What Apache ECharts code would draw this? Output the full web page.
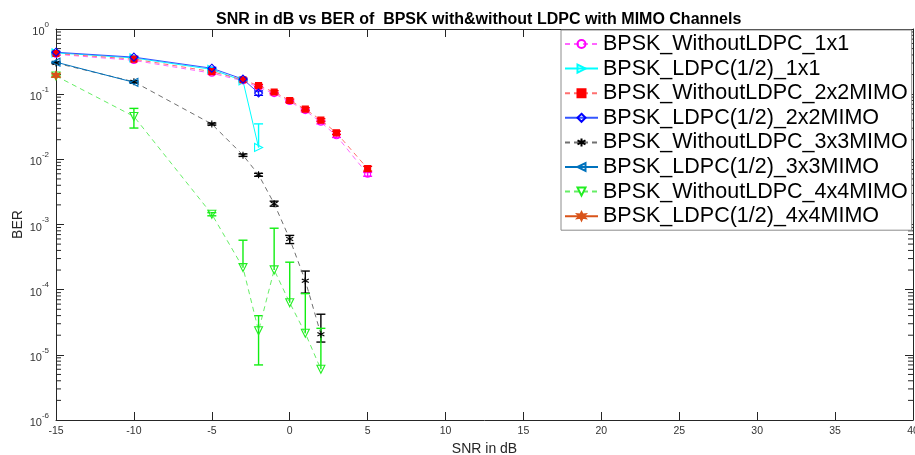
<!DOCTYPE html>
<html>
<head>
<meta charset="utf-8">
<script src="https://cdn.jsdelivr.net/npm/echarts@6/dist/echarts.min.js"></script>
<style>html,body{margin:0;padding:0;background:#fff}#c{width:915px;height:455px}</style>
</head>
<body>
<div id="c"></div>
<script>
// ---- data ----
const seriesNames = ['BPSK_WithoutLDPC_1x1','BPSK_LDPC(1/2)_1x1','BPSK_WithoutLDPC_2x2MIMO','BPSK_LDPC(1/2)_2x2MIMO','BPSK_WithoutLDPC_3x3MIMO','BPSK_LDPC(1/2)_3x3MIMO','BPSK_WithoutLDPC_4x4MIMO','BPSK_LDPC(1/2)_4x4MIMO'];

const snrA = [-15,-10,-5,-3,-2,-1,0,1,2,3,5];
const berNoLdpc1x1 = [0.41,0.33,0.21,0.16,0.128,0.102,0.077,0.056,0.037,0.023,0.0059];
const errNoLdpc1x1 = [0.012,0.010,0.007,0.006,0.005,0.004,0.003,0.0025,0.002,0.0013,0.0004];
const berNoLdpc2x2 = [0.42,0.345,0.222,0.166,0.135,0.108,0.080,0.059,0.040,0.0255,0.0072];
const errNoLdpc2x2 = [0.010,0.008,0.007,0.006,0.006,0.005,0.004,0.003,0.002,0.0015,0.0006];

const snrB = [-15,-10,-5,-3,-2];
const berLdpc1x1 = [0.43,0.36,0.24,0.16,0.0152];
const errPlusLdpc1x1 = [0.010,0.008,0.006,0.005,0.0198];
const errMinusLdpc1x1 = [0.010,0.008,0.006,0.005,0];
const berLdpc2x2 = [0.44,0.37,0.25,0.17,0.104];
const errLdpc2x2 = [0.012,0.010,0.008,0.007,0.008];

const snrC = [-15,-10,-5,-3,-2,-1,0,1,2];
const berNoLdpc3x3 = [0.30,0.155,0.0348,0.0116,0.0058,0.00209,0.0006,0.000137,0.0000207];
const errPlusNoLdpc3x3 = [0.006,0.004,0.0012,0.0005,0.0003,0.00019,0.00008,0.000056,0.0000213];
const errMinusNoLdpc3x3 = [0.006,0.004,0.0012,0.0005,0.0003,0.00018,0.00009,0.0000485,0.000005];
const berNoLdpc4x4 = [0.19,0.0455,0.00144,0.000218,0.0000234,0.000201,0.000063,0.0000214,0.000006];
const errPlusNoLdpc4x4 = [0.006,0.015,0.00008,0.000356,0.0000165,0.000676,0.000201,0.0000656,0.0000195];
const errMinusNoLdpc4x4 = [0.006,0.0153,0.00008,0,0.0000164,0,0,0,0];

const snrD = [-15,-10];
const berLdpc3x3 = [0.31,0.152];
const errLdpc3x3 = [0.008,0.005];

const snrE = [-15];
const berLdpc4x4 = [0.195];
const errLdpc4x4 = [0.01];

const xMin = -15, xMax = 40, xStep = 5;
const yMinExp = -6, yMaxExp = 0;
const minorMultipliers = [2,3,4,5,6,7,8,9];

// ---- build chart ----
function pairs(xs, ys){ return xs.map((x,i)=>[x, ys[i]]); }
function ebData(xs, ys, ePlus, eMinus){
  return xs.map((x,i)=>[x, ys[i]-eMinus[i], ys[i]+ePlus[i], eMinus[i] > 0 ? 1 : 0]);
}
function ebSeries(name, color, data){
  return {
    type:'custom', name:name, data:data, z:3, silent:true,
    renderItem:function(params, api){
      const x = api.value(0), lo = api.value(1), hi = api.value(2), lowCap = api.value(3);
      const pH = api.coord([x, hi]), pL = api.coord([x, lo]);
      const w = 4.5;
      const st = {stroke:color, lineWidth:1.4};
      const ch = [
        {type:'line', shape:{x1:pH[0],y1:pH[1],x2:pL[0],y2:pL[1]}, style:st},
        {type:'line', shape:{x1:pH[0]-w,y1:pH[1],x2:pH[0]+w,y2:pH[1]}, style:st}
      ];
      if (lowCap) ch.push({type:'line', shape:{x1:pL[0]-w,y1:pL[1],x2:pL[0]+w,y2:pL[1]}, style:st});
      return {type:'group', children:ch};
    }
  };
}
function lineSeries(name, data, lineColor, dashed, symbol, size, markColor, rotate, filled){
  return {
    type:'line', name:name, data:data, z:4,
    symbol:symbol, symbolSize:size, symbolRotate:rotate||0, showAllSymbol:true,
    lineStyle:{color:lineColor, width:1, type: dashed ? [5,4] : 'solid'},
    itemStyle:{color: filled ? markColor : 'rgba(255,255,255,0)', borderColor:markColor, borderWidth:1.1},
    emphasis:{disabled:true}, animation:false
  };
}

const asterisk = 'path://M5,0L5,10M0.7,2.5L9.3,7.5M0.7,7.5L9.3,2.5';
const hexagram = 'path://M5,0L6.2,2.9L9.33,2.5L7.4,5L9.33,7.5L6.2,7.1L5,10L3.8,7.1L0.67,7.5L2.6,5L0.67,2.5L3.8,2.9Z';

const minorData = [];
for (let e = yMinExp; e < yMaxExp; e++) minorMultipliers.forEach(m => minorData.push([xMin, m*Math.pow(10,e)]));

const series = [
  lineSeries(seriesNames[0], pairs(snrA, berNoLdpc1x1), '#FF66FF', true, 'circle', 6, '#FF00FF', 0, false),
  ebSeries('eb0', '#FF00FF', ebData(snrA, berNoLdpc1x1, errNoLdpc1x1, errNoLdpc1x1)),
  lineSeries(seriesNames[1], pairs(snrB, berLdpc1x1), '#00FFFF', false, 'triangle', 8, '#00FFFF', -90, false),
  ebSeries('eb1', '#00FFFF', ebData(snrB, berLdpc1x1, errPlusLdpc1x1, errMinusLdpc1x1)),
  lineSeries(seriesNames[2], pairs(snrA, berNoLdpc2x2), '#FF7070', true, 'rect', 6, '#FF0000', 0, true),
  ebSeries('eb2', '#FF0000', ebData(snrA, berNoLdpc2x2, errNoLdpc2x2, errNoLdpc2x2)),
  lineSeries(seriesNames[3], pairs(snrB, berLdpc2x2), '#3355FF', false, 'diamond', 8, '#0000FF', 0, false),
  ebSeries('eb3', '#0000FF', ebData(snrB, berLdpc2x2, errLdpc2x2, errLdpc2x2)),
  lineSeries(seriesNames[4], pairs(snrC, berNoLdpc3x3), '#707070', true, asterisk, 7, '#000000', 0, false),
  ebSeries('eb4', '#000000', ebData(snrC, berNoLdpc3x3, errPlusNoLdpc3x3, errMinusNoLdpc3x3)),
  lineSeries(seriesNames[5], pairs(snrD, berLdpc3x3), '#0072BD', false, 'triangle', 8, '#0072BD', 90, false),
  ebSeries('eb5', '#0072BD', ebData(snrD, berLdpc3x3, errLdpc3x3, errLdpc3x3)),
  lineSeries(seriesNames[6], pairs(snrC, berNoLdpc4x4), '#66EE66', true, 'triangle', 8, '#22EE22', 180, false),
  ebSeries('eb6', '#11EE11', ebData(snrC, berNoLdpc4x4, errPlusNoLdpc4x4, errMinusNoLdpc4x4)),
  lineSeries(seriesNames[7], pairs(snrE, berLdpc4x4), '#D95319', false, hexagram, 8, '#D95319', 0, true),
  ebSeries('eb7', '#D95319', ebData(snrE, berLdpc4x4, errLdpc4x4, errLdpc4x4)),
  {
    type:'custom', name:'minor', data:minorData, silent:true, z:1,
    renderItem:function(params, api){
      const v = api.value(1);
      const pL = api.coord([xMin, v]), pR = api.coord([xMax, v]);
      const st = {stroke:'#262626', lineWidth:1};
      return {type:'group', children:[
        {type:'line', shape:{x1:pL[0],y1:pL[1],x2:pL[0]+5,y2:pL[1]}, style:st},
        {type:'line', shape:{x1:pR[0],y1:pR[1],x2:pR[0]-5,y2:pR[1]}, style:st}
      ]};
    }
  }
];

const axisLineStyle = {show:true, onZero:false, lineStyle:{color:'#262626', width:1}};
const supLabel = {
  formatter: v => '{b|10}{s|' + Math.round(Math.log10(v)) + '}',
  rich:{ b:{fontSize:11, color:'#333', fontFamily:'Liberation Sans', padding:[6,0,0,0]}, s:{fontSize:8, color:'#333', fontFamily:'Liberation Sans', verticalAlign:'top', padding:[0,0,4,0]} },
  margin:7
};

const chart = echarts.init(document.getElementById('c'), null, {renderer:'canvas'});
chart.setOption({
  animation:false,
  backgroundColor:'#fff',
  title:{
    text:'SNR in dB vs BER of  BPSK with&without LDPC with MIMO Channels',
    left:211, top:7,
    textStyle:{fontFamily:'Liberation Sans', fontSize:16, fontWeight:'bold', color:'#000'}
  },
  legend:{
    data:seriesNames, orient:'vertical', left:561, top:30,
    itemWidth:33, itemHeight:10, itemGap:2.6,
    padding:[3,4,3,3],
    backgroundColor:'#fff', borderColor:'#8c8c8c', borderWidth:1, borderRadius:0,
    textStyle:{fontFamily:'Liberation Sans', fontSize:21.5, color:'#000', lineHeight:20},
    selectedMode:false
  },
  grid:{left:56, right:2, top:29, bottom:35, outerBoundsMode:'none', containLabel:false},
  xAxis:[
    {type:'value', min:xMin, max:xMax, interval:xStep,
     name:'SNR in dB', nameLocation:'middle', nameGap:22, nameMoveOverlap:false,
     nameTextStyle:{fontFamily:'Liberation Sans', fontSize:14, color:'#262626'},
     axisLine:axisLineStyle, axisTick:{inside:true, length:8, lineStyle:{color:'#262626'}},
     axisLabel:{fontFamily:'Liberation Sans', fontSize:10.5, color:'#333', margin:6},
     splitLine:{show:false}},
    {type:'value', min:xMin, max:xMax, interval:xStep, position:'top',
     axisLine:axisLineStyle, axisTick:{inside:true, length:8, lineStyle:{color:'#262626'}},
     axisLabel:{show:false}, splitLine:{show:false}}
  ],
  yAxis:[
    {type:'log', logBase:10, min:Math.pow(10,yMinExp), max:Math.pow(10,yMaxExp), splitNumber:6,
     name:'BER', nameLocation:'middle', nameGap:31, nameMoveOverlap:false,
     nameTextStyle:{fontFamily:'Liberation Sans', fontSize:14, color:'#262626'},
     axisLine:axisLineStyle, axisTick:{inside:true, length:8, lineStyle:{color:'#262626'}},
     axisLabel:supLabel, splitLine:{show:false}},
    {type:'log', logBase:10, min:Math.pow(10,yMinExp), max:Math.pow(10,yMaxExp), splitNumber:6, position:'right',
     axisLine:axisLineStyle, axisTick:{inside:true, length:8, lineStyle:{color:'#262626'}},
     axisLabel:{show:false}, splitLine:{show:false}}
  ],
  series:series
});
</script>
</body>
</html>
